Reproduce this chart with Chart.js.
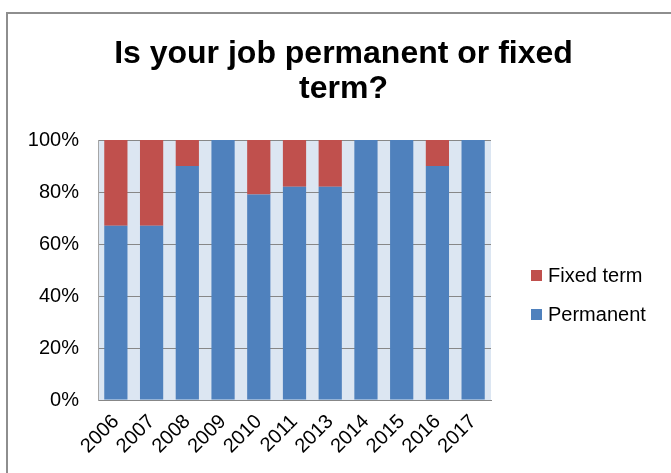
<!DOCTYPE html>
<html>
<head>
<meta charset="utf-8">
<title>Is your job permanent or fixed term?</title>
<script src="https://cdn.jsdelivr.net/npm/chart.js@4/dist/chart.umd.min.js"></script>
<style>
  html, body { margin: 0; padding: 0; background: #fff; }
  #wrap { width: 671px; height: 473px; }
</style>
</head>
<body>
<div id="wrap"><canvas id="jobChart" width="671" height="473"></canvas></div>
<script>
// Data
const years = ['2006', '2007', '2008', '2009', '2010', '2011', '2013', '2014', '2015', '2016', '2017'];
const permanent = [67, 67, 90, 100, 79, 82, 82, 100, 100, 90, 100];
const fixedTerm = [33, 33, 10, 0, 21, 18, 18, 0, 0, 10, 0];
const yTicks = [0, 20, 40, 60, 80, 100];
const titleLines = ['Is your job permanent or fixed', 'term?'];

const colors = {
  blue: '#4F81BD',
  red: '#C0504D',
  plotBg: '#DCE6F2',
  grid: '#878787',
  frame: '#8E8E8E',
  text: '#000000'
};

const fontFamily = "'Liberation Sans', Arial, sans-serif";

// Outer frame, plot background, title and legend drawn around the chart area
const decorations = {
  id: 'decorations',
  beforeDraw(chart) {
    const { ctx, chartArea } = chart;
    ctx.save();
    ctx.fillStyle = '#ffffff';
    ctx.fillRect(0, 0, chart.width, chart.height);

    ctx.strokeStyle = colors.frame;
    ctx.lineWidth = 2;
    ctx.strokeRect(7, 13, chart.width + 20, chart.height + 20);

    ctx.fillStyle = colors.plotBg;
    ctx.fillRect(chartArea.left, chartArea.top, chartArea.right - chartArea.left, chartArea.bottom - chartArea.top);
    ctx.restore();
  },
  afterDraw(chart) {
    const { ctx } = chart;
    ctx.save();
    ctx.fillStyle = colors.text;
    ctx.textAlign = 'center';
    ctx.textBaseline = 'alphabetic';
    ctx.font = 'bold 32px ' + fontFamily;
    titleLines.forEach((line, i) => {
      ctx.fillText(line, 343.5, 63 + i * 35);
    });

    // legend: reversed order, like the stacked series
    const items = chart.data.datasets.slice().reverse();
    ctx.font = '20px ' + fontFamily;
    ctx.textAlign = 'left';
    ctx.textBaseline = 'middle';
    items.forEach((ds, i) => {
      const cy = 275.5 + i * 39;
      ctx.fillStyle = ds.backgroundColor;
      ctx.fillRect(531, cy - 5.5, 11, 11);
      ctx.fillStyle = colors.text;
      ctx.fillText(ds.label, 548, cy + 1);
    });
    ctx.restore();
  }
};

new Chart(document.getElementById('jobChart'), {
  type: 'bar',
  data: {
    labels: years,
    datasets: [
      {
        label: 'Permanent',
        data: permanent,
        backgroundColor: colors.blue,
        borderWidth: 0,
        barPercentage: 0.65,
        categoryPercentage: 1
      },
      {
        label: 'Fixed term',
        data: fixedTerm,
        backgroundColor: colors.red,
        borderWidth: 0,
        barPercentage: 0.65,
        categoryPercentage: 1
      }
    ]
  },
  options: {
    responsive: false,
    animation: false,
    devicePixelRatio: 1,
    layout: {
      padding: { top: 140, right: 180, left: 0, bottom: 0 }
    },
    plugins: {
      legend: { display: false },
      title: { display: false },
      tooltip: { enabled: false }
    },
    scales: {
      x: {
        stacked: true,
        grid: { display: false, drawTicks: false },
        border: { display: true, color: colors.grid, width: 1 },
        ticks: {
          color: colors.text,
          font: { family: fontFamily, size: 20 },
          maxRotation: 45,
          minRotation: 45,
          padding: 10,
          autoSkip: false
        },
        afterFit(scale) { scale.height = 73; }
      },
      y: {
        stacked: true,
        min: 0,
        max: 100,
        afterBuildTicks(scale) {
          scale.ticks = yTicks.map(v => ({ value: v }));
        },
        grid: { color: colors.grid, lineWidth: 1, drawTicks: false, tickLength: 0 },
        border: { display: true, color: '#A6A6A6', width: 1 },
        ticks: {
          color: colors.text,
          font: { family: fontFamily, size: 20 },
          padding: 19,
          callback: value => value + '%'
        },
        afterFit(scale) { scale.width = 98; }
      }
    }
  },
  plugins: [decorations]
});
</script>
</body>
</html>
